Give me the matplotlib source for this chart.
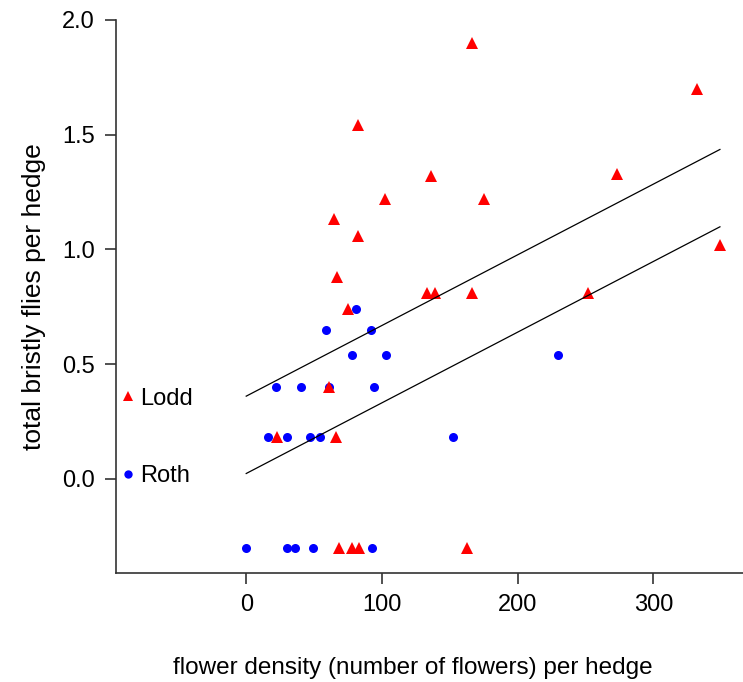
from matplotlib import pyplot as plt

plt.rcParams['font.family'] = ['Liberation Sans', 'DejaVu Sans']

# Lodd hedges (red triangles)
lodd_x = [82, 102, 65, 82, 67, 166, 332, 136, 273, 175, 349,
          133, 139, 166, 252, 75, 61, 23, 66, 68, 78, 83, 163]
lodd_y = [1.54, 1.22, 1.13, 1.06, 0.88, 1.90, 1.70, 1.32, 1.33, 1.22, 1.02,
          0.81, 0.81, 0.81, 0.81, 0.74, 0.40, 0.18, 0.18, -0.30, -0.30, -0.30, -0.30]

# Roth hedges (blue circles)
roth_x = [81, 59, 92, 78, 103, 230, 22, 40, 61, 94,
          16, 30, 47, 54, 152, 0, 30, 36, 49, 93]
roth_y = [0.74, 0.65, 0.65, 0.54, 0.54, 0.54, 0.40, 0.40, 0.40, 0.40,
          0.18, 0.18, 0.18, 0.18, 0.18, -0.30, -0.30, -0.30, -0.30, -0.30]

# fitted parallel lines
slope = 0.00308
lodd_icpt = 0.36
roth_icpt = 0.023
line_x = [0, 349]

fig = plt.figure(figsize=(7.43, 6.82), dpi=100)
ax = fig.add_axes([0.156, 0.16, 0.844, 0.811])

ax.plot(roth_x, roth_y, 'o', color='#0000ff', markersize=6.5, markeredgewidth=0)
ax.plot(lodd_x, lodd_y, '^', color='#ff0000', markersize=8, markeredgewidth=0)

ax.plot(line_x, [lodd_icpt + slope * v for v in line_x], color='black', linewidth=0.9)
ax.plot(line_x, [roth_icpt + slope * v for v in line_x], color='black', linewidth=0.9)

# labels next to the intercepts
ax.plot(-87, lodd_icpt, '^', color='#ff0000', markersize=7, markeredgewidth=0, clip_on=False)
ax.text(-78, lodd_icpt - 0.012, "Lodd", fontsize=17, va='center')
ax.plot(-87, roth_icpt, 'o', color='#0000ff', markersize=6, markeredgewidth=0, clip_on=False)
ax.text(-78, roth_icpt - 0.012, "Roth", fontsize=17, va='center')

ax.set_xlim(-96, 366)
ax.set_ylim(-0.41, 2.0)
ax.set_xticks([0, 100, 200, 300])
ax.set_yticks([0.0, 0.5, 1.0, 1.5, 2.0])
ax.set_yticklabels(["0.0", "0.5", "1.0", "1.5", "2.0"])

for s in ['top', 'right']:
    ax.spines[s].set_visible(False)
for s in ['left', 'bottom']:
    ax.spines[s].set_color('#333333')
    ax.spines[s].set_linewidth(1.2)
ax.tick_params(direction='out', length=8, width=1.2, color='#333333', labelsize=17, pad=7)

ax.set_ylabel("total bristly flies per hedge", fontsize=19, labelpad=12)
fig.text(0.555, 0.021, "flower density (number of flowers) per hedge",
         fontsize=17.5, ha='center', va='center')

plt.savefig("out.png", dpi=100)
